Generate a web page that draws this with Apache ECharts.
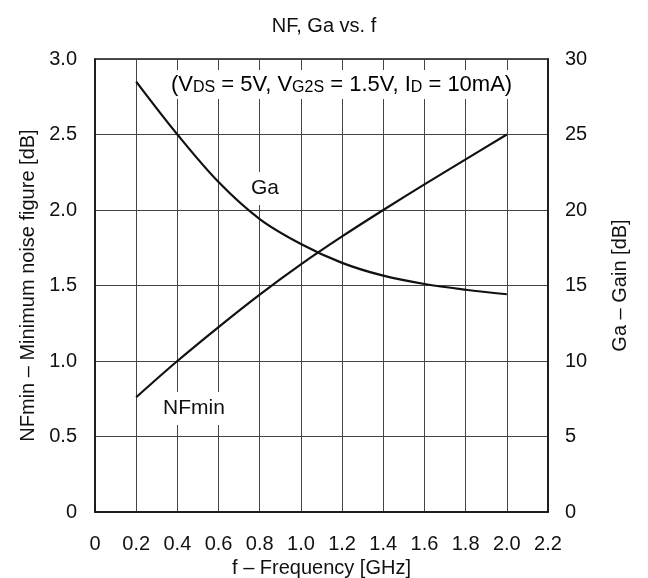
<!DOCTYPE html>
<html><head><meta charset="utf-8">
<script src="https://cdn.jsdelivr.net/npm/echarts@6/dist/echarts.min.js"></script>
<style>html,body{margin:0;padding:0;background:#fff}#c{width:648px;height:578px}</style>
</head><body><div id="c"></div>
<script>
var freq = [0.2, 0.4, 0.6, 0.8, 1.0, 1.2, 1.4, 1.6, 1.8, 2.0];
var nfmin = [0.76, 1.0, 1.225, 1.44, 1.64, 1.825, 2.0, 2.17, 2.335, 2.5];
var ga = [28.5, 25.0, 21.85, 19.4, 17.75, 16.5, 15.65, 15.1, 14.72, 14.42];
var xTicks = ['0','0.2','0.4','0.6','0.8','1.0','1.2','1.4','1.6','1.8','2.0','2.2'];
var leftTicks = ['0','0.5','1.0','1.5','2.0','2.5','3.0'];
var rightTicks = ['0','5','10','15','20','25','30'];

var FONT = '"Liberation Sans", Arial, sans-serif';
var chart = echarts.init(document.getElementById('c'));
function pair(xs, ys){ return xs.map(function(x,i){ return [x, ys[i]]; }); }
var small = {fontSize: 16, fontFamily: FONT, color: '#111', verticalAlign: 'bottom', lineHeight: 23};
var big = {fontSize: 22, fontFamily: FONT, color: '#111', verticalAlign: 'bottom', lineHeight: 23};
chart.setOption({
  animation: false,
  backgroundColor: '#fff',
  title: {text: 'NF, Ga vs. f', left: 'center', top: 11,
    textStyle: {fontFamily: FONT, fontSize: 20, fontWeight: 'normal', color: '#111'}},
  grid: {left: 95, right: 100, top: 59, bottom: 66, show: true, borderColor: '#111', borderWidth: 1.5,
    containLabel: false, outerBoundsMode: 'none'},
  xAxis: {type: 'value', min: 0, max: 2.2, interval: 0.2,
    name: 'f – Frequency [GHz]', nameLocation: 'middle', nameGap: 34,
    nameTextStyle: {fontFamily: FONT, fontSize: 20, color: '#111'},
    axisLine: {show: true, lineStyle: {color: '#111', width: 1.5}},
    axisTick: {show: false},
    axisLabel: {fontFamily: FONT, fontSize: 20, color: '#111', margin: 22,
      formatter: function(v){ var i = Math.round(v/0.2); return xTicks[i]; }},
    splitLine: {show: true, lineStyle: {color: '#444', width: 1}}},
  yAxis: [
    {type: 'value', min: 0, max: 3, interval: 0.5, position: 'left',
     name: 'NFmin – Minimum noise figure [dB]', nameLocation: 'middle', nameGap: 55, nameRotate: 90,
     nameTextStyle: {fontFamily: FONT, fontSize: 20, color: '#111'},
     axisLine: {show: true, lineStyle: {color: '#111', width: 1.5}},
     axisTick: {show: false},
     axisLabel: {fontFamily: FONT, fontSize: 20, color: '#111', margin: 18,
       formatter: function(v){ return leftTicks[Math.round(v/0.5)]; }},
     splitLine: {show: true, lineStyle: {color: '#444', width: 1}}},
    {type: 'value', min: 0, max: 30, interval: 5, position: 'right',
     name: 'Ga – Gain [dB]', nameLocation: 'middle', nameGap: 62, nameRotate: 90,
     nameTextStyle: {fontFamily: FONT, fontSize: 20, color: '#111'},
     axisLine: {show: true, lineStyle: {color: '#111', width: 1.5}},
     axisTick: {show: false},
     axisLabel: {fontFamily: FONT, fontSize: 20, color: '#111', margin: 17,
       formatter: function(v){ return rightTicks[Math.round(v/5)]; }},
     splitLine: {show: false}}
  ],
  series: [
    {name: 'NFmin', type: 'line', yAxisIndex: 0, data: pair(freq, nfmin), smooth: 0.35,
     showSymbol: false, lineStyle: {color: '#111', width: 2.2}, z: 3},
    {name: 'Ga', type: 'line', yAxisIndex: 1, data: pair(freq, ga), smooth: 0.35,
     showSymbol: false, lineStyle: {color: '#111', width: 2.2}, z: 3}
  ],
  graphic: [
    {type: 'text', left: 168, top: 70, z: 10,
     style: {
       text: '{b|(V}{s|DS}{b| = 5V, V}{s|G2S}{b| = 1.5V, I}{s|D}{b| = 10mA)}',
       backgroundColor: '#fff', padding: [3, 3, 3, 3],
       rich: {b: big, s: small}
     }},
    {type: 'text', left: 248, top: 172, z: 10,
     style: {text: 'Ga', fontFamily: FONT, fontSize: 21, fill: '#111', backgroundColor: '#fff', padding: [6, 3, 6, 3]}},
    {type: 'text', left: 160, top: 392, z: 10,
     style: {text: 'NFmin', fontFamily: FONT, fontSize: 21, fill: '#111', backgroundColor: '#fff', padding: [6, 3, 6, 3]}}
  ]
});
</script></body></html>
